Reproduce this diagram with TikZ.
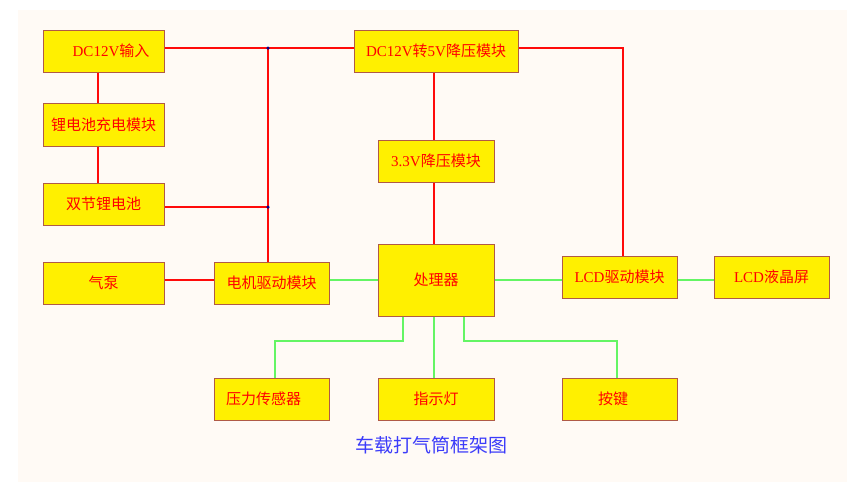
\documentclass[tikz,border=0pt]{standalone}
\usepackage{fontspec}
\setmainfont{Liberation Serif}
\newfontfamily\cjk{Noto Sans CJK SC}
\definecolor{bgc}{RGB}{255,250,245}
\definecolor{boxfill}{RGB}{255,240,0}
\definecolor{boxline}{RGB}{176,90,70}
\definecolor{redline}{RGB}{255,10,10}
\definecolor{greenline}{RGB}{100,245,100}
\definecolor{captionblue}{RGB}{60,60,250}
\definecolor{dotblue}{RGB}{0,0,140}
\begin{document}
\begin{tikzpicture}[x=1pt,y=-1pt,
  box/.style={draw=boxline, line width=1pt, fill=boxfill, inner sep=0pt,
    text=red, font=\fontsize{15pt}{18pt}\selectfont},
  pwr/.style={draw=redline, line width=2.4pt},
  sig/.style={draw=greenline, line width=1.2pt},
  jdot/.style={circle, fill=dotblue, inner sep=0pt, minimum size=3.5pt}]
\useasboundingbox (0,0) rectangle (862,496);
\fill[white] (0,0) rectangle (862,496);
\fill[bgc] (18,10) rectangle (847,482);

% junction coordinates
\coordinate (j1) at (268,48);
\coordinate (j2) at (268,207);
\coordinate (c1) at (623,48);
\coordinate (g1) at (403,341);
\coordinate (g2) at (275,341);
\coordinate (g3) at (464,341);
\coordinate (g4) at (617,341);

% boxes
\node[box, minimum width=121pt, minimum height=42pt] (in) at (103.5,51) {\hspace*{15pt}DC12V{\cjk 输入}};
\node[box, minimum width=121pt, minimum height=43pt] (chg) at (103.5,124.5) {\cjk 锂电池充电模块};
\node[box, minimum width=121pt, minimum height=42pt] (bat) at (103.5,204) {\cjk 双节锂电池};
\node[box, minimum width=121pt, minimum height=42pt] (pump) at (103.5,283) {\cjk 气泵};
\node[box, minimum width=115pt, minimum height=42pt] (motor) at (271.5,283) {\cjk 电机驱动模块};
\node[box, minimum width=164pt, minimum height=42pt] (dc5) at (436,51) {DC12V{\cjk 转}5V{\cjk 降压模块}};
\node[box, minimum width=116pt, minimum height=42pt] (v33) at (436,161) {3.3V{\cjk 降压模块}};
\node[box, minimum width=116pt, minimum height=72pt] (proc) at (436,280) {\raisebox{2pt}{\cjk 处理器}};
\node[box, minimum width=115pt, minimum height=42pt] (lcdd) at (619.5,277) {LCD{\cjk 驱动模块}};
\node[box, minimum width=115pt, minimum height=42pt] (lcd) at (771.5,277) {LCD{\cjk 液晶屏}};
\node[box, minimum width=115pt, minimum height=42pt] (press) at (271.5,399) {{\cjk 压力传感器}\hspace*{16pt}};
\node[box, minimum width=116pt, minimum height=42pt] (ind) at (436,399) {\cjk 指示灯};
\node[box, minimum width=115pt, minimum height=42pt] (key) at (619.5,399) {{\cjk 按键}\hspace*{13pt}};

% red power lines
\draw[pwr] ([yshift=3pt]in.east) -- (j1) -- ([yshift=3pt]dc5.west);
\draw[pwr] (j1) -- (j2) -- (j2 |- motor.north);
\draw[pwr] ([yshift=-3pt]bat.east) -- (j2);
\draw[pwr] ([xshift=-5.5pt]in.south) -- ([xshift=-5.5pt]chg.north);
\draw[pwr] ([xshift=-5.5pt]chg.south) -- ([xshift=-5.5pt]bat.north);
\draw[pwr] (pump.east |- proc.center) -- (motor.west |- proc.center);
\draw[pwr] ([yshift=3pt]dc5.east) -- (c1) -- (c1 |- lcdd.north);
\draw[pwr] ([xshift=-2pt]dc5.south) -- ([xshift=-2pt]v33.north);
\draw[pwr] ([xshift=-2pt]v33.south) -- ([xshift=-2pt]proc.north);

% green signal lines
\draw[sig] (motor.east |- proc.center) -- (proc.west);
\draw[sig] (proc.east) -- (lcdd.west |- proc.center);
\draw[sig] (lcdd.east |- proc.center) -- (lcd.west |- proc.center);
\draw[sig] (g1 |- proc.south) -- (g1) -- (g2) -- (g2 |- press.north);
\draw[sig] ([xshift=-2pt]proc.south) -- ([xshift=-2pt]ind.north);
\draw[sig] (g3 |- proc.south) -- (g3) -- (g4) -- (g4 |- key.north);

% junction dots
\node[jdot] (d1) at (j1) {};
\node[jdot] (d2) at (j2) {};

% caption
\node[text=captionblue, font=\cjk\fontsize{19pt}{22pt}\selectfont] (cap) at (431,445.5) {车载打气筒框架图};
\end{tikzpicture}
\end{document}
